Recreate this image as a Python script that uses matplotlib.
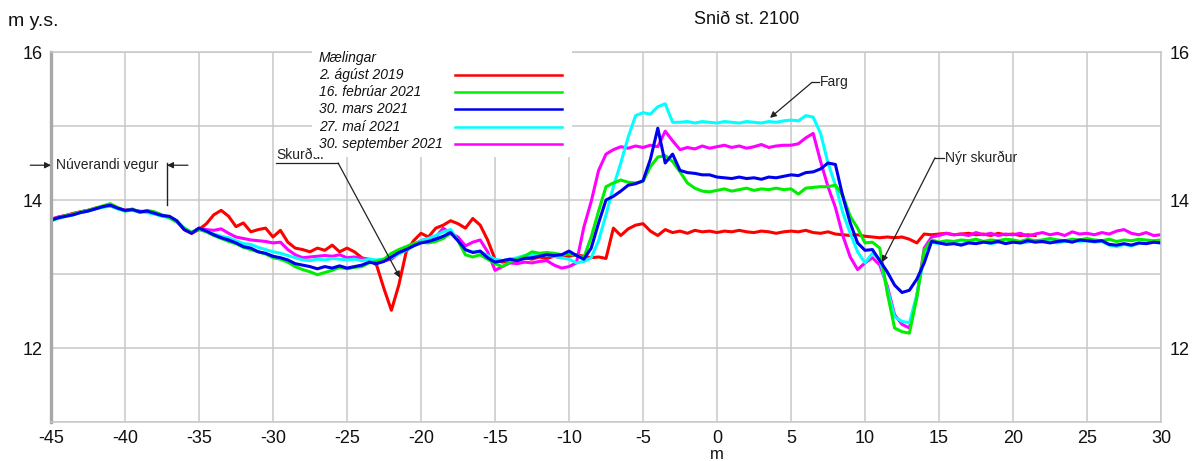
import numpy as np
import matplotlib.pyplot as plt
from matplotlib.patches import Rectangle
from matplotlib.lines import Line2D

plt.rcParams['font.family'] = ['Liberation Sans', 'DejaVu Sans']
plt.rcParams['axes.unicode_minus'] = False

W, H = 1192, 461

# stöðvar á 0.5 m bili
dist = np.arange(-45.0, 30.5, 0.5)

labels = ['2. ágúst 2019', '16. febrúar 2021', '30. mars 2021', '27. maí 2021', '30. september 2021']
colors = ['#ff0000', '#00ee00', '#0000f0', '#00ffff', '#ff00ff']

# mælingar (m y.s.), hver röð = 5 m
aug2019 = [
    13.74, 13.77, 13.79, 13.82, 13.84, 13.86, 13.89, 13.91, 13.92, 13.89,
    13.86, 13.87, 13.84, 13.85, 13.82, 13.79, 13.77, 13.71, 13.60, 13.55,
    13.60, 13.68, 13.80, 13.86, 13.78, 13.64, 13.69, 13.57, 13.60, 13.62,
    13.50, 13.59, 13.43, 13.35, 13.33, 13.30, 13.35, 13.32, 13.39, 13.30,
    13.35, 13.30, 13.22, 13.19, 13.12, 12.80, 12.51, 12.85, 13.30, 13.45,
    13.55, 13.50, 13.62, 13.66, 13.72, 13.68, 13.62, 13.75, 13.66, 13.46,
    13.20, 13.16, 13.18, 13.20, 13.22, 13.20, 13.23, 13.21, 13.24, 13.22,
    13.24, 13.26, 13.24, 13.22, 13.23, 13.21, 13.62, 13.52, 13.61, 13.66,
    13.68, 13.58, 13.52, 13.60, 13.56, 13.58, 13.55, 13.59, 13.57, 13.58,
    13.56, 13.58, 13.57, 13.59, 13.57, 13.56, 13.58, 13.57, 13.55, 13.57,
    13.58, 13.57, 13.59, 13.56, 13.55, 13.57, 13.54, 13.53, 13.52, 13.53,
    13.51, 13.50, 13.49, 13.50, 13.49, 13.50, 13.47, 13.42, 13.54, 13.53,
    13.54, 13.55, 13.53, 13.54, 13.55, 13.53, 13.54, 13.52, 13.55, 13.53,
    13.54, 13.52, 13.53, 13.52,
]
feb2021 = [
    13.72, 13.76, 13.79, 13.81, 13.84, 13.86, 13.89, 13.92, 13.95, 13.90,
    13.85, 13.88, 13.83, 13.86, 13.84, 13.80, 13.76, 13.70, 13.62, 13.56,
    13.60, 13.57, 13.52, 13.48, 13.44, 13.41, 13.36, 13.33, 13.30, 13.27,
    13.22, 13.20, 13.16, 13.10, 13.06, 13.03, 12.99, 13.02, 13.05, 13.09,
    13.07, 13.09, 13.10, 13.15, 13.17, 13.20, 13.28, 13.33, 13.37, 13.41,
    13.43, 13.42, 13.44, 13.48, 13.55, 13.45, 13.26, 13.23, 13.26, 13.20,
    13.14, 13.10, 13.16, 13.20, 13.24, 13.30, 13.28, 13.29, 13.28, 13.26,
    13.27, 13.25, 13.22, 13.50, 13.85, 14.18, 14.23, 14.27, 14.24, 14.23,
    14.25, 14.45, 14.58, 14.60, 14.52, 14.38, 14.23, 14.16, 14.12, 14.11,
    14.13, 14.15, 14.12, 14.14, 14.16, 14.13, 14.15, 14.14, 14.16, 14.14,
    14.15, 14.08, 14.16, 14.17, 14.18, 14.18, 14.20, 14.06, 13.78, 13.62,
    13.42, 13.43, 13.35, 12.75, 12.27, 12.22, 12.20, 12.68, 13.32, 13.46,
    13.43, 13.45, 13.44, 13.46, 13.45, 13.47, 13.44, 13.46, 13.45, 13.47,
    13.46, 13.44, 13.47, 13.45, 13.46, 13.48, 13.46, 13.45, 13.47, 13.46,
    13.48, 13.46, 13.45, 13.47, 13.44, 13.46, 13.45, 13.47, 13.46, 13.45,
    13.46,
]
mar2021 = [
    13.73, 13.76, 13.78, 13.80, 13.83, 13.85, 13.88, 13.91, 13.93, 13.89,
    13.86, 13.87, 13.84, 13.85, 13.82, 13.79, 13.78, 13.72, 13.60, 13.55,
    13.62, 13.58, 13.53, 13.49, 13.46, 13.42, 13.37, 13.35, 13.30, 13.28,
    13.24, 13.22, 13.19, 13.14, 13.12, 13.10, 13.07, 13.10, 13.08, 13.11,
    13.08, 13.10, 13.12, 13.16, 13.14, 13.17, 13.23, 13.29, 13.33, 13.38,
    13.42, 13.44, 13.47, 13.51, 13.56, 13.45, 13.33, 13.29, 13.31, 13.22,
    13.16, 13.18, 13.20, 13.18, 13.21, 13.22, 13.24, 13.26, 13.25, 13.26,
    13.31, 13.25, 13.20, 13.35, 13.69, 14.00, 14.05, 14.12, 14.20, 14.22,
    14.26, 14.55, 14.97, 14.50, 14.62, 14.40, 14.37, 14.36, 14.34, 14.34,
    14.31, 14.30, 14.29, 14.31, 14.29, 14.30, 14.28, 14.31, 14.30, 14.32,
    14.34, 14.33, 14.37, 14.38, 14.42, 14.50, 14.48, 14.05, 13.69, 13.42,
    13.32, 13.33, 13.18, 13.03, 12.85, 12.75, 12.78, 12.93, 13.15, 13.44,
    13.42, 13.40, 13.41, 13.39, 13.42, 13.41, 13.43, 13.42, 13.44, 13.41,
    13.43, 13.42, 13.45, 13.43, 13.44, 13.42, 13.44, 13.45, 13.43, 13.46,
    13.45, 13.44, 13.45, 13.40, 13.39, 13.41, 13.39, 13.42, 13.41, 13.43,
    13.42,
]
mai2021 = [
    13.72, 13.75, 13.78, 13.80, 13.83, 13.85, 13.88, 13.90, 13.92, 13.88,
    13.85, 13.86, 13.84, 13.83, 13.81, 13.78, 13.76, 13.71, 13.62, 13.56,
    13.61, 13.58, 13.54, 13.51, 13.49, 13.45, 13.41, 13.40, 13.36, 13.33,
    13.30, 13.28, 13.25, 13.22, 13.19, 13.18, 13.20, 13.19, 13.21, 13.20,
    13.19, 13.20, 13.18, 13.20, 13.19, 13.20, 13.22, 13.27, 13.32, 13.38,
    13.45, 13.48, 13.52, 13.57, 13.60, 13.45, 13.32, 13.30, 13.30, 13.25,
    13.20, 13.18, 13.20, 13.22, 13.25, 13.26, 13.27, 13.26, 13.24, 13.22,
    13.20, 13.15, 13.17, 13.22, 13.45, 13.80, 14.18, 14.50, 14.85, 15.14,
    15.18, 15.16, 15.26, 15.30, 15.05, 15.05, 15.06, 15.04, 15.06, 15.05,
    15.04, 15.06, 15.05, 15.04, 15.06, 15.05, 15.04, 15.06, 15.05, 15.07,
    15.08, 15.07, 15.14, 15.12, 14.90, 14.50, 14.20, 13.83, 13.55, 13.30,
    13.15, 13.28, 13.20, 12.80, 12.42, 12.36, 12.34, 12.72, 13.23, 13.43,
    13.41, 13.43, 13.42, 13.40, 13.43, 13.42, 13.44, 13.41, 13.43, 13.42,
    13.44, 13.42, 13.43, 13.45, 13.43, 13.44, 13.42, 13.44, 13.46, 13.44,
    13.45, 13.43, 13.44, 13.39, 13.37, 13.40, 13.38, 13.41, 13.42, 13.43,
    13.42,
]
sep2021 = [
    13.73, 13.77, 13.79, 13.81, 13.84, 13.86, 13.88, 13.91, 13.93, 13.89,
    13.86, 13.86, 13.85, 13.84, 13.82, 13.79, 13.77, 13.71, 13.61, 13.56,
    13.62, 13.60, 13.59, 13.61, 13.55, 13.50, 13.48, 13.46, 13.45, 13.44,
    13.42, 13.43, 13.33, 13.26, 13.22, 13.23, 13.24, 13.25, 13.24, 13.26,
    13.22, 13.23, 13.21, 13.20, 13.16, 13.18, 13.20, 13.28, 13.35, 13.40,
    13.45, 13.48, 13.50, 13.62, 13.55, 13.50, 13.38, 13.43, 13.46, 13.30,
    13.05, 13.10, 13.15, 13.14, 13.16, 13.15, 13.17, 13.18, 13.12, 13.08,
    13.10, 13.15, 13.63, 13.98, 14.40, 14.62, 14.68, 14.72, 14.70, 14.73,
    14.71, 14.74, 14.72, 14.93, 14.80, 14.68, 14.71, 14.69, 14.73, 14.70,
    14.72, 14.74, 14.71, 14.73, 14.70, 14.72, 14.75, 14.71, 14.73, 14.74,
    14.74, 14.76, 14.84, 14.90, 14.52, 14.18, 13.90, 13.52, 13.23, 13.06,
    13.15, 13.22, 13.12, 12.84, 12.45, 12.32, 12.27, 12.70, 13.35, 13.50,
    13.52, 13.55, 13.53, 13.54, 13.52, 13.56, 13.53, 13.55, 13.52, 13.54,
    13.53, 13.55, 13.51, 13.54, 13.56, 13.53, 13.55, 13.52, 13.57, 13.54,
    13.55, 13.53, 13.56, 13.54, 13.58, 13.60, 13.55, 13.53, 13.56, 13.52,
    13.53,
]

series = [aug2019, feb2021, mar2021, mai2021, sep2021]
order = [0, 4, 3, 1, 2]  # teikniröð: blátt efst

fig = plt.figure(figsize=(W / 100, H / 100), dpi=100)
ax = fig.add_axes([51 / W, 39 / H, 1110 / W, 370 / H])

for k in order:
    y = series[k]
    ax.plot(dist[:len(y)], y, color=colors[k], lw=2.2, zorder=2 + order.index(k) * 0.1)

ax.set_xlim(-45, 30)
ax.set_ylim(11, 16)
ax.set_xticks(np.arange(-45, 31, 5))
ax.set_yticks([12, 14, 16])
ax.set_yticks([11, 13, 15], minor=True)
ax.grid(True, which='both', color='#c8c8c8', lw=1.1)
ax.set_axisbelow(True)
ax.tick_params(which='both', length=0, labelsize=13, pad=6, labelright=True, colors='#111111')
for s in ax.spines.values():
    s.set_color('#c8c8c8')
    s.set_linewidth(1.1)
ax.spines['left'].set_color('#a8a8a8')
ax.spines['left'].set_linewidth(2.4)

fig.text(8 / W, 1 - 21 / H, 'm y.s.', fontsize=14, ha='left', va='center', color='#111111')
fig.text(747 / W, 1 - 20 / H, 'Snið st. 2100', fontsize=13, ha='center', va='center', color='#111111')
ax.text(0, -0.089, 'm', transform=ax.get_xaxis_transform(), fontsize=12, ha='center', va='center', color='#111111')

# skýringar
ac = '#222222'
arr = dict(arrowstyle='-|>', color=ac, lw=0.9, mutation_scale=9, shrinkA=0, shrinkB=0)

# Núverandi vegur
ax.annotate('', xy=(-45, 14.47), xytext=(-46.4, 14.47), arrowprops=arr, annotation_clip=False)
ax.text(-44.65, 14.47, 'Núverandi vegur', fontsize=10, va='center', ha='left', color=ac)
ax.plot([-37.16, -37.16], [14.50, 13.93], color=ac, lw=1.0, zorder=3)
ax.annotate('', xy=(-37.16, 14.47), xytext=(-35.75, 14.47), arrowprops=arr)

# Skurður
ax.text(-29.8, 14.52, 'Skurður', fontsize=10, va='bottom', ha='left', color=ac, zorder=3)
ax.plot([-29.8, -25.6], [14.50, 14.50], color=ac, lw=0.9, zorder=3)
ax.annotate('', xy=(-21.42, 12.95), xytext=(-25.6, 14.50), arrowprops=arr)

# Farg
ax.plot([6.42, 6.9], [15.59, 15.59], color=ac, lw=0.9, zorder=3)
ax.annotate('', xy=(3.58, 15.11), xytext=(6.42, 15.59), arrowprops=arr)
ax.text(6.95, 15.59, 'Farg', fontsize=10, va='center', ha='left', color=ac)

# Nýr skurður
ax.plot([14.73, 15.35], [14.57, 14.57], color=ac, lw=0.9, zorder=3)
ax.annotate('', xy=(11.15, 13.16), xytext=(14.73, 14.57), arrowprops=arr)
ax.text(15.4, 14.57, 'Nýr skurður', fontsize=10, va='center', ha='left', color=ac)

# skýringarkassi (Mælingar)
fig.add_artist(Rectangle((312 / W, 1 - 157 / H), 260 / W, 117 / H, transform=fig.transFigure,
                         facecolor='white', edgecolor='none', zorder=5))
fig.text(319 / W, 1 - 58 / H, 'Mælingar', fontsize=10, style='italic', ha='left', va='center',
         color='#111111', zorder=6)
ly = [75, 92, 109, 127, 144]
for i in range(len(labels)):
    fig.text(319 / W, 1 - ly[i] / H, labels[i], fontsize=10, style='italic', ha='left', va='center',
             color='#111111', zorder=6)
    fig.add_artist(Line2D([455 / W, 562 / W], [1 - ly[i] / H, 1 - ly[i] / H], transform=fig.transFigure,
                          color=colors[i], lw=1.8, zorder=6))

fig.savefig('out.png', dpi=100)
